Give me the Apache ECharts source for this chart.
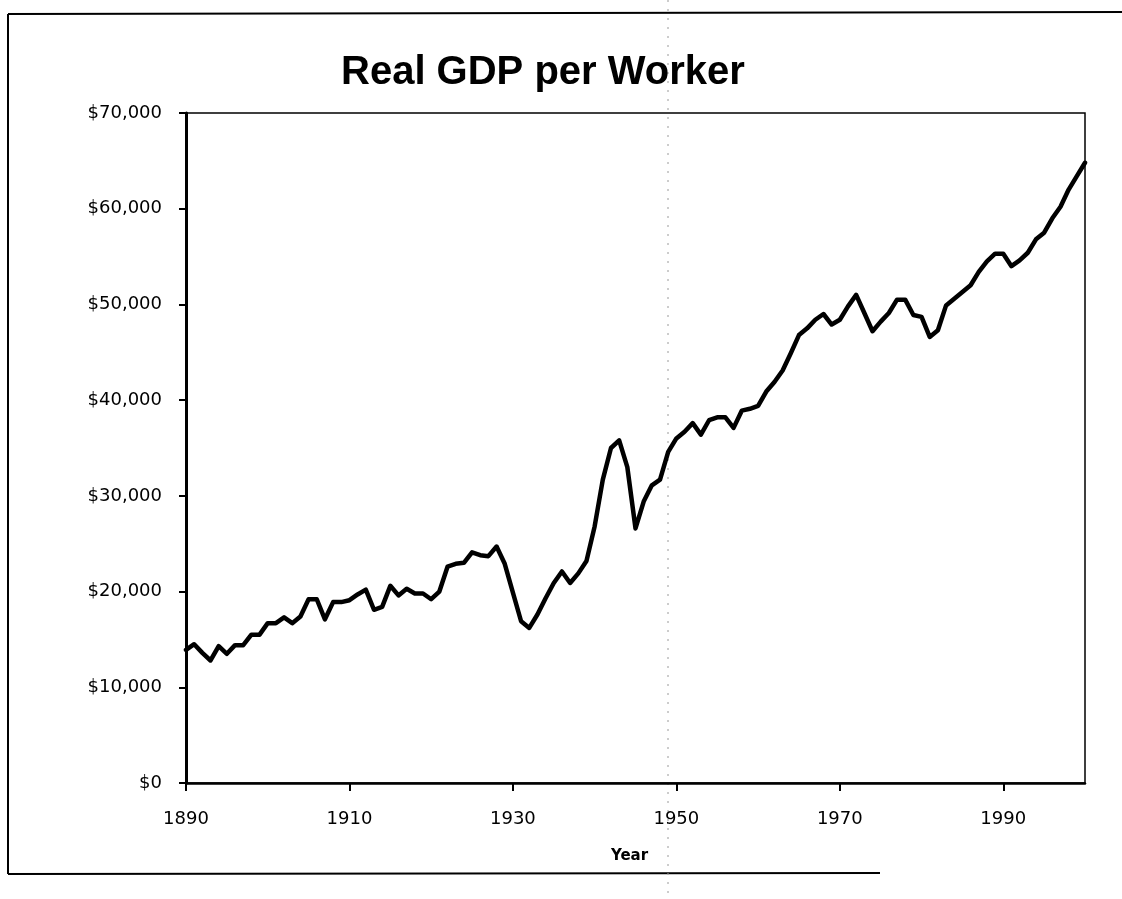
<!DOCTYPE html>
<html>
<head>
<meta charset="utf-8">
<style>
  html, body { margin: 0; padding: 0; background: #ffffff; }
  #chart { width: 1122px; height: 899px; }
</style>
<script src="https://cdn.jsdelivr.net/npm/echarts@6/dist/echarts.min.js"></script>
</head>
<body>
<div id="chart"></div>
<script>
const titleText = 'Real GDP per Worker';
const xAxisName = 'Year';

const years = [
  1890, 1891, 1892, 1893, 1894, 1895, 1896, 1897, 1898, 1899,
  1900, 1901, 1902, 1903, 1904, 1905, 1906, 1907, 1908, 1909,
  1910, 1911, 1912, 1913, 1914, 1915, 1916, 1917, 1918, 1919,
  1920, 1921, 1922, 1923, 1924, 1925, 1926, 1927, 1928, 1929,
  1930, 1931, 1932, 1933, 1934, 1935, 1936, 1937, 1938, 1939,
  1940, 1941, 1942, 1943, 1944, 1945, 1946, 1947, 1948, 1949,
  1950, 1951, 1952, 1953, 1954, 1955, 1956, 1957, 1958, 1959,
  1960, 1961, 1962, 1963, 1964, 1965, 1966, 1967, 1968, 1969,
  1970, 1971, 1972, 1973, 1974, 1975, 1976, 1977, 1978, 1979,
  1980, 1981, 1982, 1983, 1984, 1985, 1986, 1987, 1988, 1989,
  1990, 1991, 1992, 1993, 1994, 1995, 1996, 1997, 1998, 1999,
  2000
];

const gdpPerWorker = [
  13900, 14500, 13600, 12800, 14300, 13500, 14400, 14400, 15500, 15500,
  16700, 16700, 17300, 16700, 17400, 19200, 19200, 17100, 18900, 18900,
  19100, 19700, 20200, 18100, 18400, 20600, 19600, 20300, 19800, 19800,
  19200, 20000, 22600, 22900, 23000, 24100, 23800, 23700, 24700, 22900,
  19900, 16900, 16200, 17600, 19300, 20900, 22100, 20900, 21900, 23200,
  26800, 31700, 35000, 35800, 33000, 26600, 29400, 31100, 31700, 34600,
  36000, 36700, 37600, 36400, 37900, 38200, 38200, 37100, 38900, 39100,
  39400, 40900, 41900, 43100, 44900, 46800, 47500, 48400, 49000, 47900,
  48400, 49800, 51000, 49100, 47200, 48200, 49100, 50500, 50500, 48900,
  48700, 46600, 47300, 49900, 50600, 51300, 52000, 53400, 54500, 55300,
  55300, 54000, 54600, 55400, 56800, 57500, 59000, 60200, 62000, 63400,
  64800
];

const xTickLabels = [1890, 1910, 1930, 1950, 1970, 1990];
const yTickValues = [0, 10000, 20000, 30000, 40000, 50000, 60000, 70000];

function money(v) {
  return '$' + String(Math.round(v)).replace(/\B(?=(\d{3})+(?!\d))/g, ',');
}

const chart = echarts.init(document.getElementById('chart'), null, { renderer: 'canvas' });

const labelFont = 'DejaVu Sans';

chart.setOption({
  backgroundColor: '#ffffff',
  animation: false,
  title: {
    text: titleText,
    left: 336,
    top: 48,
    textStyle: {
      fontFamily: 'Liberation Sans',
      fontWeight: 'bold',
      fontSize: 40,
      color: '#000000'
    }
  },
  grid: {
    left: 186,
    right: 37,
    top: 113,
    bottom: 116,
    show: true,
    borderColor: '#000000',
    borderWidth: 1.5,
    backgroundColor: 'transparent'
  },
  xAxis: {
    type: 'value',
    min: years[0],
    max: years[years.length - 1],
    name: xAxisName,
    nameLocation: 'middle',
    nameGap: 66,
    nameTextStyle: {
      fontFamily: labelFont,
      fontWeight: 'bold',
      fontSize: 15,
      color: '#000000',
      padding: [0, 12, 0, 0]
    },
    splitLine: { show: false },
    axisLine: { show: true, onZero: false, lineStyle: { color: '#000000', width: 2.5 } },
    axisTick: {
      show: true,
      inside: false,
      length: 8,
      customValues: xTickLabels,
      lineStyle: { color: '#000000', width: 2 }
    },
    axisLabel: {
      show: true,
      margin: 27,
      customValues: xTickLabels,
      fontFamily: labelFont,
      fontSize: 18,
      color: '#000000',
      formatter: function (v) { return String(v); }
    }
  },
  yAxis: {
    type: 'value',
    min: yTickValues[0],
    max: yTickValues[yTickValues.length - 1],
    interval: 10000,
    splitLine: { show: false },
    axisLine: { show: true, onZero: false, lineStyle: { color: '#000000', width: 3 } },
    axisTick: {
      show: true,
      inside: false,
      length: 7,
      lineStyle: { color: '#000000', width: 2 }
    },
    axisLabel: {
      margin: 24,
      fontFamily: labelFont,
      fontSize: 18,
      color: '#000000',
      formatter: money
    }
  },
  series: [{
    type: 'line',
    data: years.map((y, i) => [y, gdpPerWorker[i]]),
    showSymbol: false,
    symbol: 'none',
    clip: true,
    lineStyle: { color: '#000000', width: 4.5, join: 'round', cap: 'round' }
  }],
  graphic: [
    { type: 'line', silent: true, shape: { x1: 8, y1: 14, x2: 8, y2: 874 }, style: { stroke: '#000000', lineWidth: 2 } },
    { type: 'line', silent: true, shape: { x1: 8, y1: 14, x2: 1122, y2: 12 }, style: { stroke: '#000000', lineWidth: 2 } },
    { type: 'line', silent: true, shape: { x1: 8, y1: 874, x2: 880, y2: 873 }, style: { stroke: '#000000', lineWidth: 2 } },
    { type: 'line', silent: true, shape: { x1: 668, y1: 0, x2: 668, y2: 899 }, style: { stroke: '#9a9a9a', lineWidth: 1, lineDash: [2, 7] } }
  ]
});
</script>
</body>
</html>
